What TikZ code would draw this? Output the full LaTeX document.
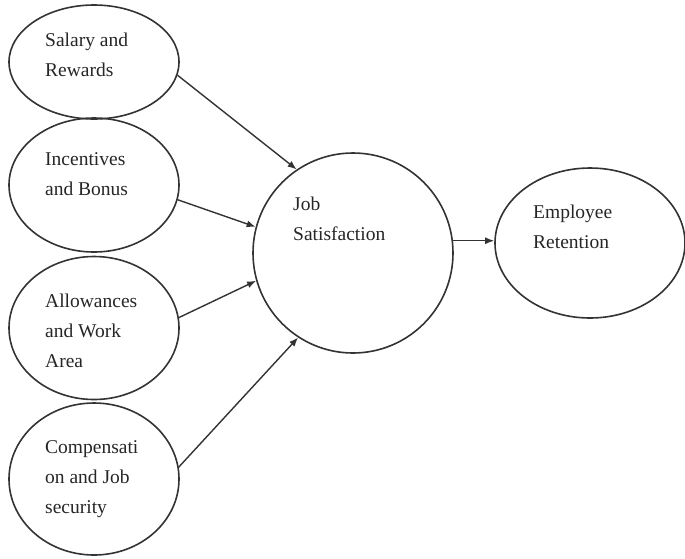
\documentclass[tikz,border=0pt]{standalone}
\usepackage{fontspec}
\setmainfont{Liberation Serif}
\usetikzlibrary{shapes.geometric,arrows.meta}
\begin{document}
\begin{tikzpicture}[x=1pt,y=-1pt,
  oval/.style={draw=black!80,line width=1.6pt,ellipse,inner sep=0pt},
  lbl/.style={anchor=base west,inner sep=0pt,align=left,text=black!85,
    font=\fontsize{19.5pt}{30pt}\selectfont},
  link/.style={draw=black!80,line width=1.4pt,-{Latex[length=9pt,width=7pt]}}]
\useasboundingbox (0,0) rectangle (685,558);
% factor ovals on the left
\node[oval,minimum width=170pt,minimum height=114pt] (sal) at (94,62) {};
\node[oval,minimum width=170pt,minimum height=134pt] (inc) at (94,185) {};
\node[oval,minimum width=170pt,minimum height=143pt] (all) at (94,328) {};
\node[oval,minimum width=170pt,minimum height=152pt] (com) at (94,479) {};
% central construct and outcome
\node[oval,minimum width=200pt,minimum height=200pt] (job) at (353,253) {};
\node[oval,minimum width=190pt,minimum height=150pt] (ret) at (590,243) {};
% labels (anchored at the baseline of their last line)
\node[lbl] (tsal) at (45,76) {Salary and\\Rewards};
\node[lbl] (tinc) at (45,195) {Incentives\\and Bonus};
\node[lbl] (tall) at (45,367) {Allowances\\and Work\\Area};
\node[lbl] (tcom) at (45,513) {Compensati\\on and Job\\security};
\node[lbl] (tjob) at (293,240) {Job\\Satisfaction};
\node[lbl] (tret) at (533,248) {Employee\\Retention};
% connectors
\draw[link] (sal.-9) -- (job.124);
\draw[link] (inc.-10) -- (job.165);
\draw[link] (all.7) -- (job.196);
\draw[link] (com.8) -- (job.237);
\draw[link] (job.7) -- (job.7 -| ret.west);
\end{tikzpicture}
\end{document}
